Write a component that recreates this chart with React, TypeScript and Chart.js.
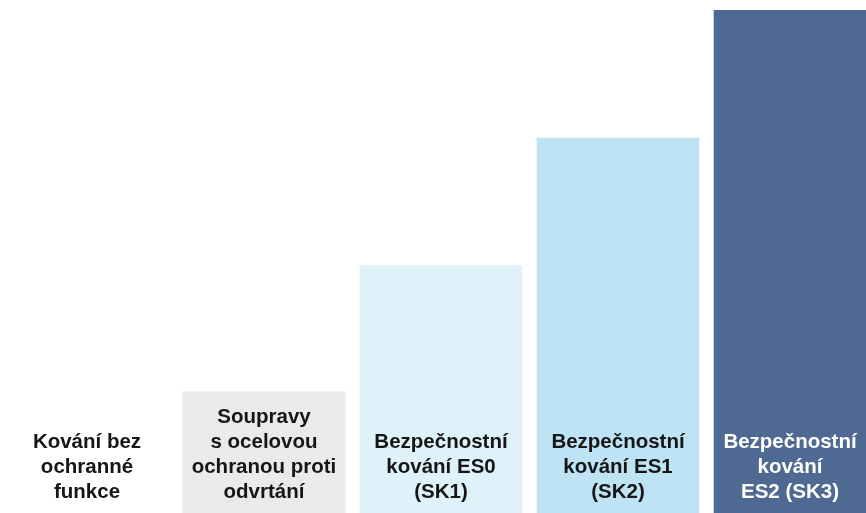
import React, { useEffect, useRef } from "react";
import { Chart, registerables } from "chart.js";

Chart.register(...registerables);

const categories: string[][] = [
  ["Kování bez", "ochranné", "funkce"],
  ["Soupravy", "s ocelovou", "ochranou proti", "odvrtání"],
  ["Bezpečnostní", "kování ES0", "(SK1)"],
  ["Bezpečnostní", "kování ES1", "(SK2)"],
  ["Bezpečnostní", "kování", "ES2 (SK3)"],
];
const values: number[] = [0, 23.6, 48.3, 73.1, 98.0];
const barColors: string[] = ["#ffffff", "#e9eaec", "#dff1f9", "#bde3f5", "#4f6a92"];
const textColors: string[] = ["#161616", "#161616", "#161616", "#161616", "#ffffff"];

const labelPlugin = {
  id: "barLabels",
  afterDatasetsDraw(chart: any) {
    const ctx = chart.ctx;
    const area = chart.chartArea;
    const meta = chart.getDatasetMeta(0);
    ctx.save();
    ctx.font = "bold 20.5px 'Liberation Sans', Arial, Helvetica, sans-serif";
    ctx.textAlign = "center";
    ctx.textBaseline = "alphabetic";
    meta.data.forEach((bar: any, i: number) => {
      const half = bar.width / 2;
      const left = Math.max(area.left, bar.x - half);
      const right = Math.min(area.right, bar.x + half);
      const cx = (left + right) / 2;
      const lines = categories[i];
      const lineH = 25;
      const lastBaseline = area.bottom - 15;
      ctx.fillStyle = textColors[i];
      lines.forEach((ln, j) => {
        const y = lastBaseline - (lines.length - 1 - j) * lineH;
        ctx.fillText(ln, cx, y);
      });
    });
    ctx.restore();
  },
};

export default function App() {
  const ref = useRef<HTMLCanvasElement>(null);
  useEffect(() => {
    if (!ref.current) return;
    const chart = new Chart(ref.current, {
      type: "bar",
      data: {
        datasets: [
          {
            data: values.map((v, i) => ({ x: i, y: v })),
            backgroundColor: barColors,
            borderWidth: 0,
            barThickness: 162,
          },
        ],
      },
      options: {
        animation: false,
        responsive: false,
        layout: { padding: 0 },
        plugins: { legend: { display: false }, tooltip: { enabled: false } },
        scales: {
          x: { type: "linear", min: -0.4915, max: 4.401, offset: false, display: false, grid: { offset: false } },
          y: { min: 0, max: 100, display: false },
        },
      },
      plugins: [labelPlugin],
    });
    return () => chart.destroy();
  }, []);
  return (
    <div style={{ position: "fixed", left: 0, top: 0, width: 866, height: 513, background: "#fff" }}>
      <canvas ref={ref} width={866} height={513} style={{ width: 866, height: 513, display: "block" }} />
    </div>
  );
}
